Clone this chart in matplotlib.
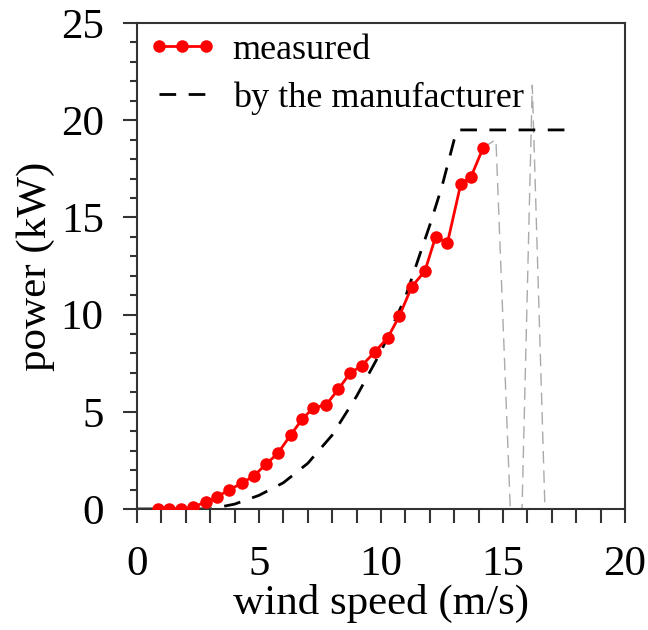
import matplotlib
matplotlib.use("Agg")
import matplotlib.pyplot as plt
from matplotlib.ticker import MultipleLocator

# measured power curve
meas_speed = [0.85, 1.3, 1.8, 2.3, 2.83, 3.29, 3.77, 4.29, 4.8, 5.29, 5.77, 6.3, 6.78,
              7.23, 7.75, 8.25, 8.73, 9.21, 9.74, 10.28, 10.75, 11.26, 11.8, 12.24,
              12.72, 13.27, 13.69, 14.19]
meas_power = [0.0, 0.0, 0.0, 0.08, 0.38, 0.63, 0.98, 1.32, 1.71, 2.31, 2.86, 3.81, 4.63,
              5.21, 5.35, 6.16, 6.98, 7.37, 8.07, 8.82, 9.92, 11.43, 12.24, 14.01,
              13.67, 16.72, 17.09, 18.59]

# manufacturer curve
manu_speed = [0, 3, 4, 5, 6, 7, 8, 9, 10, 11, 12, 12.5, 13, 13.15, 18]
manu_power = [0, 0, 0.25, 0.7, 1.35, 2.35, 3.8, 5.8, 8.1, 10.9, 14.6, 16.6, 19.0, 19.5, 19.5]

# thin grey trace seen in the picture
trace_speed = [14.19, 14.71, 15.3, 15.78, 16.2, 16.72]
trace_power = [18.59, 19.0, 0.0, 0.0, 21.8, 0.0]

plt.rcParams['font.family'] = ['Liberation Serif', 'DejaVu Serif']

fig = plt.figure(figsize=(6.48, 6.30), dpi=100)
ax = fig.add_axes([0.2114, 0.1921, 0.7531, 0.7714])

ax.plot(trace_speed, trace_power, color='#aaaaaa', lw=1.0, dashes=(9, 5), zorder=1)
ax.plot(manu_speed, manu_power, color='black', lw=2.0, dashes=(6, 4.5),
        label='by the manufacturer', zorder=2)
ax.plot(meas_speed, meas_power, color='#ff0000', lw=2.0, marker='o', ms=8,
        mec='#ff0000', mfc='#ff0000', label='measured', zorder=3)

ax.set_xlim(0, 20)
ax.set_ylim(0, 25)
ax.xaxis.set_major_locator(MultipleLocator(5))
ax.xaxis.set_minor_locator(MultipleLocator(1))
ax.yaxis.set_major_locator(MultipleLocator(5))
ax.yaxis.set_minor_locator(MultipleLocator(1))

for s in ax.spines.values():
    s.set_linewidth(1.5)
    s.set_color('#333333')

ax.tick_params(axis='x', which='both', direction='out', length=10, width=1.5,
               color='#333333', labelsize=31, pad=16)
ax.tick_params(axis='y', which='major', direction='out', length=10, width=1.5,
               color='#333333', labelsize=31, pad=14)
ax.tick_params(axis='y', which='minor', direction='out', length=5, width=1.5,
               color='#333333')
ax.tick_params(top=False, right=False, which='both')

ax.set_xlabel('wind speed (m/s)', fontsize=31, labelpad=0)
ax.set_ylabel('power (kW)', fontsize=31, labelpad=4)

h, l = ax.get_legend_handles_labels()
leg = ax.legend([h[1], h[0]], [l[1], l[0]], loc='upper left', frameon=False,
                fontsize=26, numpoints=3, handlelength=1.9, handletextpad=0.45,
                borderaxespad=0.0, labelspacing=0.4, borderpad=0.3)

fig.savefig('out.png', dpi=100)
